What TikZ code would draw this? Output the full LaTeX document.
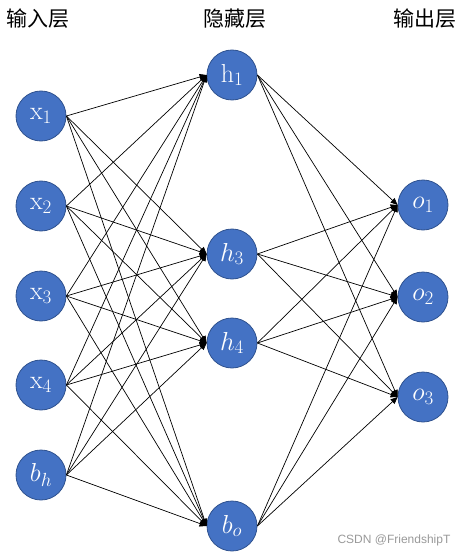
\RequirePackage{fix-cm}
\documentclass[tikz,border=0pt]{standalone}
\usepackage{fontspec}
\newfontfamily\cjk{Noto Sans CJK SC}
\newfontfamily\wmfont{Liberation Sans}
\usetikzlibrary{arrows.meta}
\definecolor{nblue}{HTML}{4472C4}
\definecolor{nborder}{HTML}{2F528F}
\definecolor{wmgray}{HTML}{999999}
\DeclareMathSizes{26}{26}{19}{14}
\begin{document}
\begin{tikzpicture}[x=1pt,y=-1pt,
  neuron/.style={circle,fill=nblue,draw=nborder,line width=0.8pt,minimum size=50pt,inner sep=0pt,text=white,font=\fontsize{26}{30}\selectfont},
  conn/.style={line width=0.7pt,-{Triangle[length=7pt,width=6pt]}},
  title/.style={font=\cjk\fontsize{21}{24}\selectfont,inner sep=0pt},
  wm/.style={font=\wmfont\fontsize{12}{14}\selectfont,text=wmgray,inner sep=0pt}]
\useasboundingbox (0,0) rectangle (466,556);
% titles
\node[title] (t1) at (38,19) {输入层};
\node[title] (t2) at (235,19) {隐藏层};
\node[title] (t3) at (425,19) {输出层};
% input layer
\node[neuron] (x1) at (41,116) {$\mathrm{x}_1$};
\node[neuron] (x2) at (41,206) {$\mathrm{x}_2$};
\node[neuron] (x3) at (41,296) {$\mathrm{x}_3$};
\node[neuron] (x4) at (41,385) {$\mathrm{x}_4$};
\node[neuron] (bh) at (41,475) {$b_h$};
% hidden layer
\node[neuron] (h1) at (232,75) {$\mathrm{h}_1$};
\node[neuron] (h3) at (232,254) {$h_3$};
\node[neuron] (h4) at (232,343) {$h_4$};
\node[neuron] (bo) at (232,526) {$b_o$};
% output layer
\node[neuron] (o1) at (423,205) {$o_1$};
\node[neuron] (o2) at (423,297) {$o_2$};
\node[neuron] (o3) at (423,397) {$o_3$};
% connections
\foreach \i in {x1,x2,x3,x4,bh}
  \foreach \j in {h1,h3,h4,bo}
    \draw[conn] (\i.east) -- (\j.west);
\foreach \i in {h1,h3,h4,bo}
  \foreach \j in {o1,o2,o3}
    \draw[conn] (\i.east) -- (\j.west);
% watermark
\node[wm] (wm) at (394,540) {CSDN @FriendshipT};
\end{tikzpicture}
\end{document}
